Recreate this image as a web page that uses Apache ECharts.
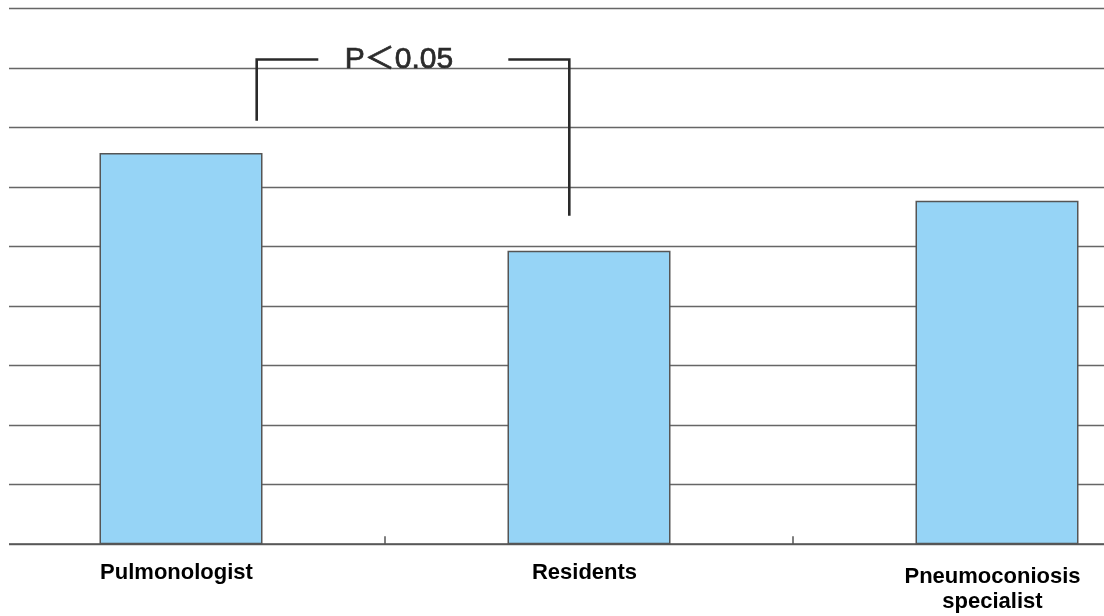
<!DOCTYPE html>
<html>
<head>
<meta charset="utf-8">
<script src="https://cdn.jsdelivr.net/npm/echarts@6/dist/echarts.min.js"></script>
<style>
html,body{margin:0;padding:0;background:#fff;overflow:hidden;width:1104px;height:616px;position:relative;}
#chart{position:absolute;left:-23px;top:0;width:1224px;height:616px;}
#mask{position:absolute;left:0;top:0;width:8.5px;height:570px;background:#fff;}
</style>
</head>
<body>
<div id="chart"></div>
<div id="mask"></div>
<script>
var categories = ['Pulmonologist', 'Residents', 'Pneumoconiosis\nspecialist'];
var values = [65.7, 49.3, 57.7];
var yTicks = [0, 10, 20, 30, 40, 50, 60, 70, 80, 90];
var annotationText = 'P\uFF1C0.05';

var chart = echarts.init(document.getElementById('chart'), null, {renderer: 'canvas'});
var FONT = '"Liberation Sans", Arial, "Noto Sans CJK SC", sans-serif';
var OFF = 23; // chart container starts 23px left of the page

chart.setOption({
  animation: false,
  backgroundColor: '#ffffff',
  grid: { left: 0, right: 0, top: 8.3, bottom: 71.8, containLabel: false },
  xAxis: {
    type: 'category',
    data: categories.map(function (c, i) {
      return i === 2 ? { value: c, textStyle: { padding: [4, 9, 0, 0], lineHeight: 25 } } : c;
    }),
    boundaryGap: true,
    axisLine: { show: true, lineStyle: { color: '#555555', width: 1.5 } },
    axisTick: { show: true, inside: true, length: 8, lineStyle: { color: '#555555', width: 1.5 } },
    axisLabel: {
      color: '#000000',
      fontFamily: FONT,
      fontWeight: 'bold',
      fontSize: 22,
      lineHeight: 26,
      margin: 16,
      padding: [0, 9, 0, 0],
      interval: 0
    },
    splitLine: { show: false }
  },
  yAxis: {
    type: 'value',
    min: yTicks[0],
    max: yTicks[yTicks.length - 1],
    interval: yTicks[1] - yTicks[0],
    axisLine: { show: false },
    axisTick: { show: false },
    axisLabel: { show: false },
    splitLine: { show: true, lineStyle: { color: '#666666', width: 1.4 } }
  },
  series: [{
    type: 'bar',
    data: values,
    barWidth: 163,
    itemStyle: { color: '#96D4F6', borderColor: '#555555', borderWidth: 1.5 },
    z: 3
  }],
  graphic: [
    { type: 'polyline', z: 100, shape: { points: [[256.7 + OFF, 120.7], [256.7 + OFF, 59.5], [318.3 + OFF, 59.5]] }, style: { stroke: '#2a2a2a', lineWidth: 2.6, fill: null } },
    { type: 'polyline', z: 100, shape: { points: [[508.3 + OFF, 59.5], [569.3 + OFF, 59.5], [569.3 + OFF, 215.7]] }, style: { stroke: '#2a2a2a', lineWidth: 2.6, fill: null } },
    { type: 'text', z: 100, x: 399 + OFF, y: 59.5, style: { text: annotationText, font: '30px ' + FONT, fill: '#2a2a2a', stroke: '#2a2a2a', lineWidth: 0.7, textAlign: 'center', textVerticalAlign: 'middle' } }
  ]
});
</script>
</body>
</html>
